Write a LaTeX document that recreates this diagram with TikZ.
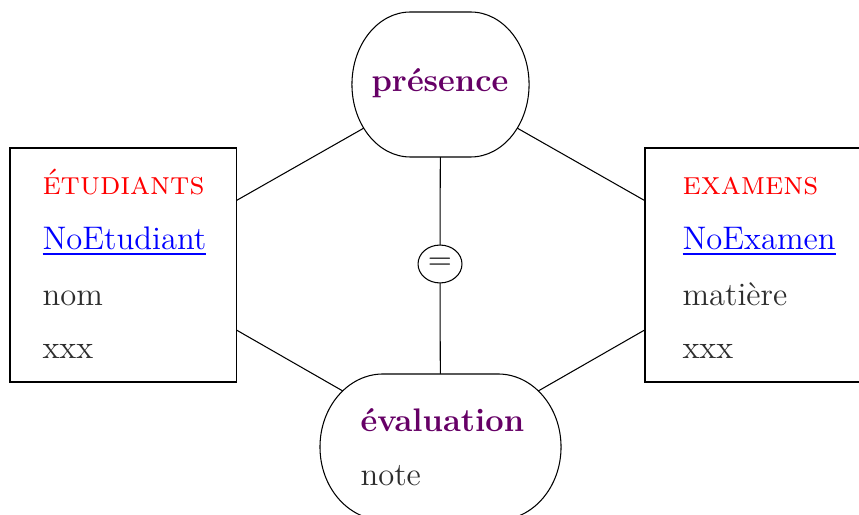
\documentclass[tikz,border=0pt]{standalone}
\usepackage{fontspec}
\usetikzlibrary{shapes.geometric,backgrounds}
\pgfdeclarelayer{mid}
\pgfsetlayers{background,mid,main}
\definecolor{relc}{RGB}{102,0,102}
\definecolor{txtc}{RGB}{45,45,45}
\begin{document}
\begin{tikzpicture}[x=0.38pt,y=-0.38pt,
  font=\fontsize{12.4}{14}\selectfont,
  ent/.style={draw, fill=white, minimum width=85.9pt, minimum height=88.9pt, inner sep=0},
  relbox/.style={inner sep=0, outer sep=0},
  attr/.style={anchor=base west, inner sep=0, text=txtc},
  enttitle/.style={anchor=base west, inner sep=0, text=red},
  keyattr/.style={anchor=base west, inner sep=0, text=blue},
  reltitle/.style={anchor=base west, inner sep=0, text=relc, font=\fontsize{12.4}{14}\selectfont\bfseries}]
\useasboundingbox (0,0) rectangle (859,514);
% entities
\node[ent] (L) at (123,265) {};
\node[ent] (R) at (758,265) {};
% relations
\node[relbox, minimum width=67.3pt, minimum height=55.1pt] (pres) at (440.5,84.5) {};
\node[reltitle, anchor=base] (pt) at (440,92) {présence};
\node[relbox, minimum width=91.6pt, minimum height=55.5pt] (eval) at (440.5,447) {};
\node[draw, fill=white, ellipse, inner sep=0, minimum width=16.7pt, minimum height=14.4pt] (eq) at (440,264) {$=$};
\begin{pgfonlayer}{mid}
\path[draw, fill=white] ([xshift=22.2pt]pres.north west) -- ([xshift=-22.2pt]pres.north east)
  arc[start angle=90, end angle=-90, x radius=22.2pt, y radius=27.55pt]
  -- ([xshift=22.2pt]pres.south west)
  arc[start angle=270, end angle=90, x radius=22.2pt, y radius=27.55pt] -- cycle;
\path[draw, fill=white] ([xshift=24pt]eval.north west) -- ([xshift=-24pt]eval.north east)
  arc[start angle=90, end angle=-90, x radius=24pt, y radius=27.75pt]
  -- ([xshift=24pt]eval.south west)
  arc[start angle=270, end angle=90, x radius=24pt, y radius=27.75pt] -- cycle;
\end{pgfonlayer}
% texts
\node[enttitle] (lt) at (42,195) {\textsc{étudiants}};
\node[keyattr] (lk) at (42,250) {\underline{NoEtudiant}};
\node[attr] (la1) at (42,305) {nom};
\node[attr] (la2) at (42,358) {xxx};
\node[enttitle] (rt) at (682,195) {\textsc{examens}};
\node[keyattr] (rk) at (682,250) {\underline{NoExamen}};
\node[attr] (ra1) at (682,305) {matière};
\node[attr] (ra2) at (682,358) {xxx};
\node[reltitle] (et) at (360,431) {évaluation};
\node[attr] (ea) at (360,485) {note};
% connectors
\begin{pgfonlayer}{background}
\draw (L.center) -- (pres.center);
\draw (L.center) -- (eval.center);
\draw (R.center) -- (pres.center);
\draw (R.center) -- (eval.center);
\draw (pres.center) -- (eq.center) -- (eval.center);
\end{pgfonlayer}
\end{tikzpicture}
\end{document}
